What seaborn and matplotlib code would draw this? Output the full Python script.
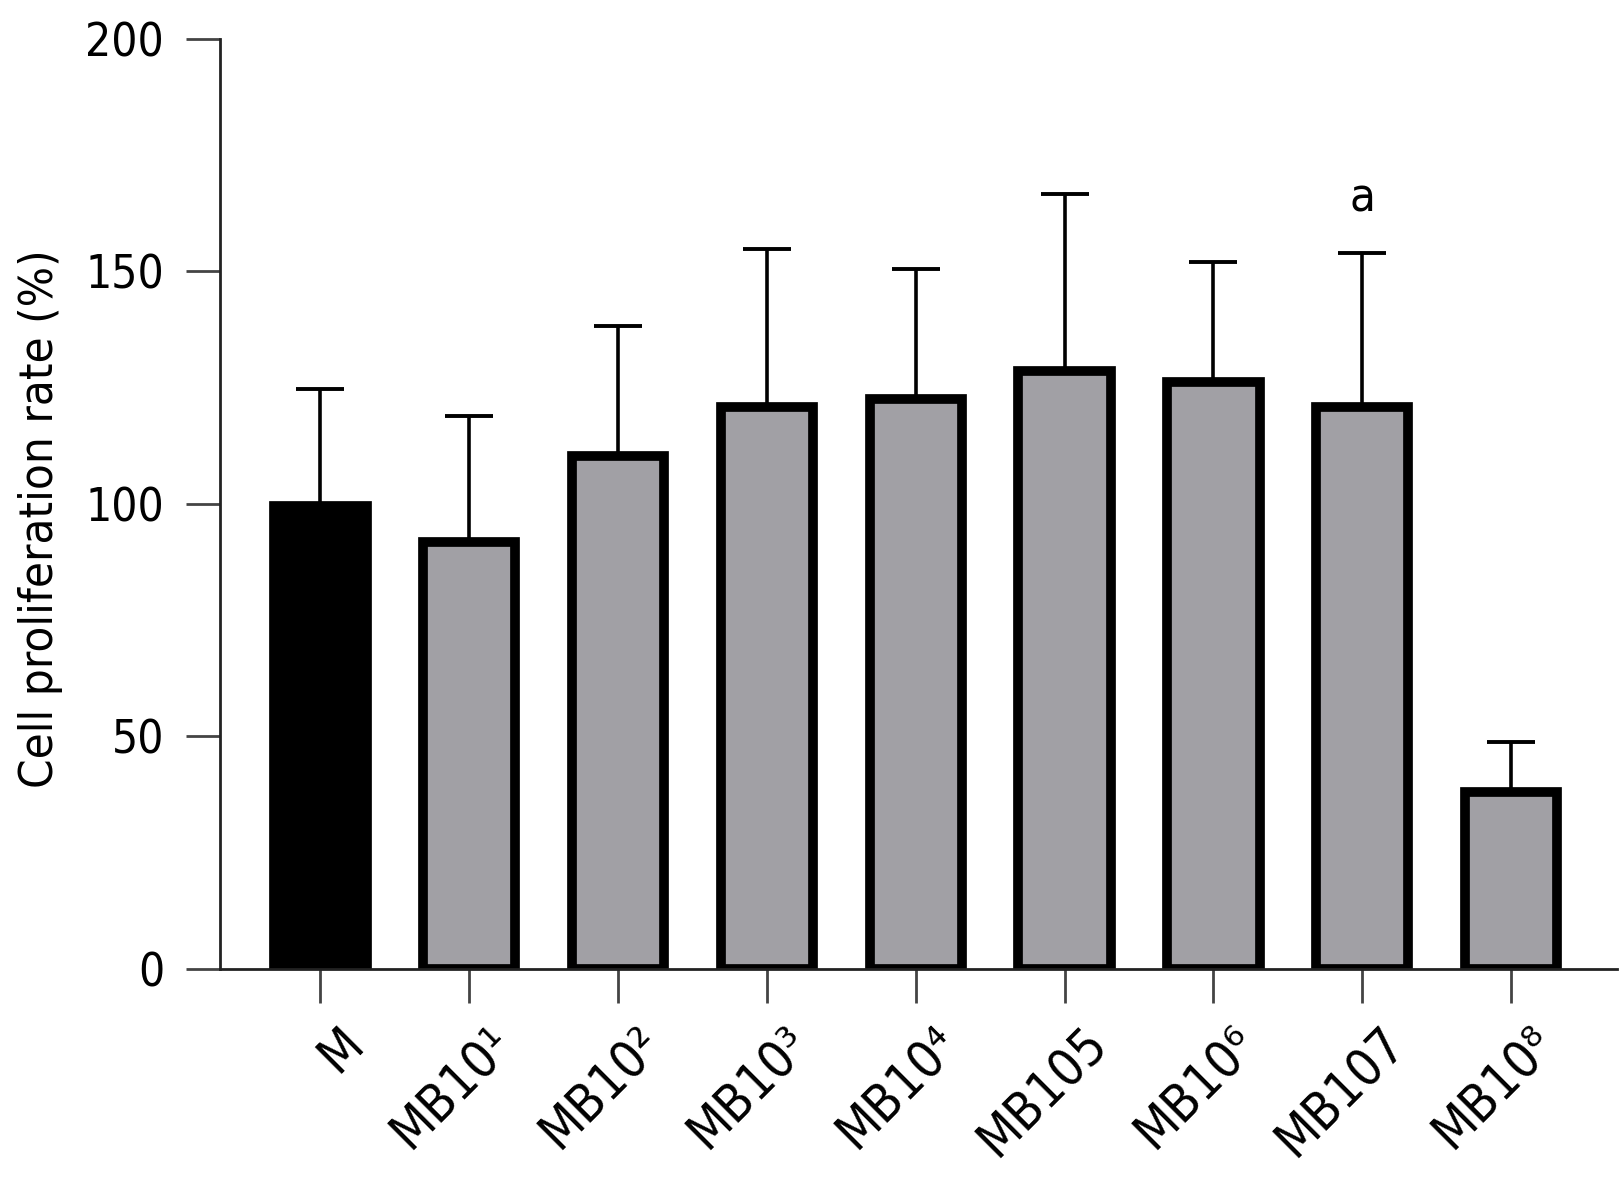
import numpy as np
import pandas as pd
import matplotlib
matplotlib.use('Agg')
import matplotlib.pyplot as plt
import matplotlib.transforms as mtransforms
from matplotlib import font_manager
import seaborn as sns

# values
categories = ['M', 'MB10¹', 'MB10²', 'MB10³', 'MB10⁴', 'MB105', 'MB10⁶', 'MB107', 'MB10⁸']
means = [99.5, 91.8, 110.2, 120.9, 122.6, 128.5, 126.2, 120.9, 37.9]
errs = [25.2, 27.0, 28.1, 33.9, 27.8, 38.2, 25.7, 33.0, 10.8]
colors = ['#000000'] + ['#a1a0a5'] * 8
sig_label = 'a'
sig_index = 7
sig_y = 162.8

sns.set_style('ticks')
plt.rcParams['font.family'] = ['DejaVu Sans']
plt.rcParams['text.color'] = 'black'
plt.rcParams['axes.labelcolor'] = 'black'
plt.rcParams['xtick.labelcolor'] = 'black'
plt.rcParams['ytick.labelcolor'] = 'black'

# a narrower face looks closer to the original, use it if it is installed
condensed = any(f.name == 'DejaVu Sans' and 'ondensed' in f.fname
                for f in font_manager.fontManager.ttflist)
if condensed:
    plt.rcParams['font.stretch'] = 'condensed'
    fs = 1.0
else:
    fs = 0.88

df = pd.DataFrame({'group': categories, 'rate': means})

fig, ax = plt.subplots(figsize=(16.2, 11.77), dpi=100)
fig.subplots_adjust(left=0.136, right=0.998, bottom=0.177, top=0.967)

ax.errorbar(np.arange(len(categories)), df['rate'],
            yerr=[np.zeros(len(errs)), errs],
            fmt='none', ecolor='black', elinewidth=2.6,
            capsize=17, capthick=2.8, zorder=0.9)

sns.barplot(data=df, x='group', y='rate', hue='group', palette=colors,
            legend=False, width=0.62, edgecolor='black', linewidth=7,
            saturation=1, ax=ax, zorder=1)

ax.text(sig_index, sig_y, sig_label, ha='center', va='baseline',
        fontsize=34 * fs, color='black')

ax.set_ylim(0, 200)
ax.set_xlim(-0.673, 8.71)
ax.set_yticks([0, 50, 100, 150, 200])
ax.set_xlabel('')
ax.set_ylabel('Cell proliferation rate (%)', fontsize=34 * fs)
ax.yaxis.set_label_coords(-0.113, 0.484)

sns.despine(ax=ax)
for side in ['left', 'bottom']:
    ax.spines[side].set_linewidth(2)
    ax.spines[side].set_color('#222222')

ax.tick_params(axis='both', direction='out', length=24.5, width=2,
               color='#444444')
ax.tick_params(axis='y', labelsize=33 * fs, pad=16)
ax.tick_params(axis='x', labelsize=37 * fs, pad=11)

ax.set_xticks(range(len(categories)))
ax.set_xticklabels(categories, rotation=45, ha='right', va='top',
                   rotation_mode='anchor')
shift = mtransforms.ScaledTranslation(0.18, 0, fig.dpi_scale_trans)
for lab in ax.get_xticklabels():
    lab.set_transform(lab.get_transform() + shift)

fig.savefig('out.png', dpi=100)
